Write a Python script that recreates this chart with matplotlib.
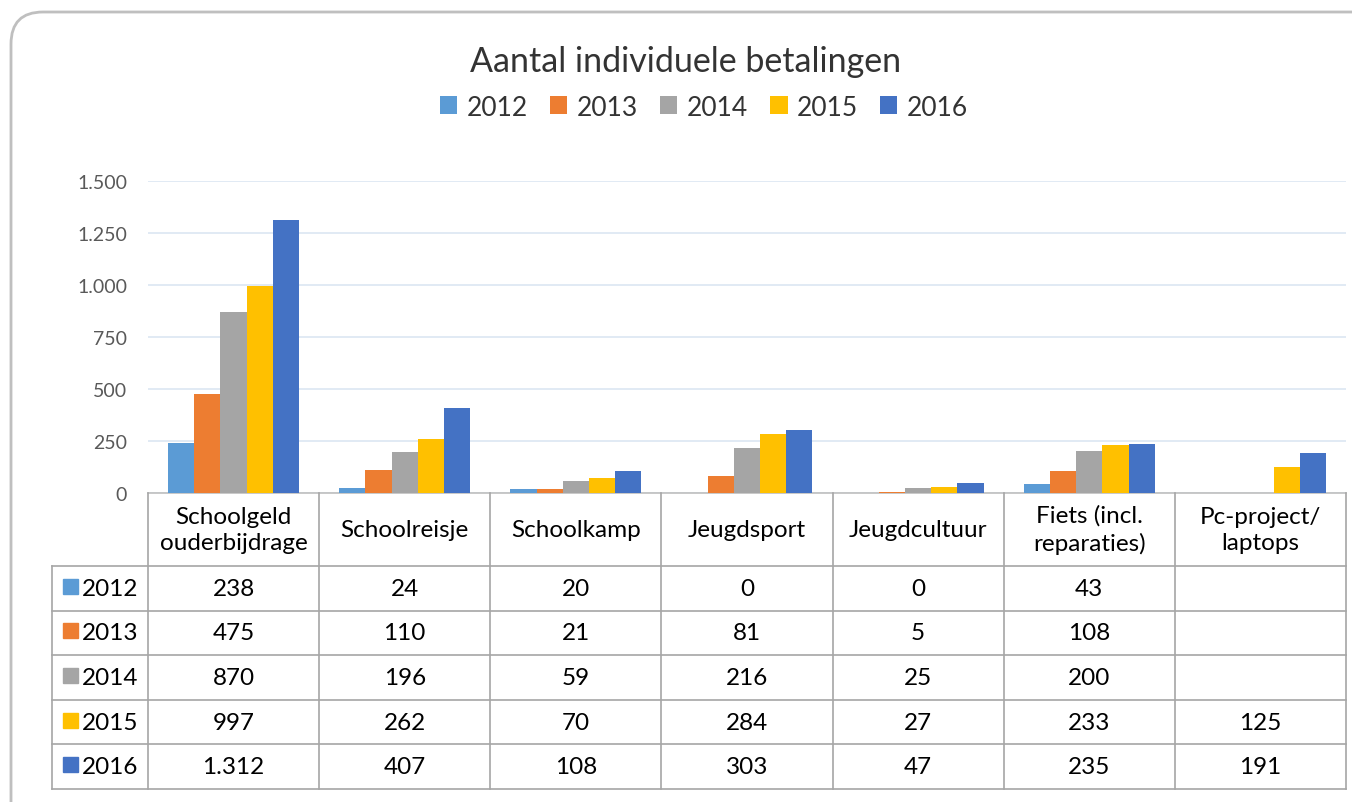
import numpy as np
import matplotlib
matplotlib.use("Agg")
import matplotlib.pyplot as plt
from matplotlib.patches import FancyBboxPatch, Patch, Rectangle

plt.rcParams['font.family'] = ['Lato', 'DejaVu Sans']

categories = ["Schoolgeld\nouderbijdrage", "Schoolreisje", "Schoolkamp", "Jeugdsport",
              "Jeugdcultuur", "Fiets (incl.\nreparaties)", "Pc-project/\nlaptops"]
years = ["2012", "2013", "2014", "2015", "2016"]
v2012 = [238, 24, 20, 0, 0, 43, None]
v2013 = [475, 110, 21, 81, 5, 108, None]
v2014 = [870, 196, 59, 216, 25, 200, None]
v2015 = [997, 262, 70, 284, 27, 233, 125]
v2016 = [1312, 407, 108, 303, 47, 235, 191]
series = [v2012, v2013, v2014, v2015, v2016]
colors = ["#5B9BD5", "#ED7D31", "#A5A5A5", "#FFC000", "#4472C4"]
yticks = [0, 250, 500, 750, 1000, 1250, 1500]

def fmt(v):
    if v is None:
        return ""
    return f"{v:,}".replace(",", ".")

W, H = 1352, 803
fig = plt.figure(figsize=(W / 100, H / 100), dpi=100)

# background frame
bg = fig.add_axes([0, 0, 1, 1])
bg.set_xlim(0, W); bg.set_ylim(H, 0); bg.axis("off")
bg.add_patch(FancyBboxPatch((11, 13), 1420, 900, boxstyle="round,pad=0,rounding_size=32",
                            fc="white", ec="#BFBFBF", lw=2))

# bar axes
x0, x1 = 148, 1346
ytop, ybot = 182, 494
ax = fig.add_axes([x0 / W, 1 - ybot / H, (x1 - x0) / W, (ybot - ytop) / H])
ax.set_facecolor("none")
n = len(categories)
bw = 0.153
xs = np.arange(n) + 0.5
for i, (vals, c) in enumerate(zip(series, colors)):
    vv = [np.nan if v is None else v for v in vals]
    ax.bar(xs + (i - 2) * bw, vv, width=bw, color=c, zorder=3)
ax.set_xlim(0, n)
ax.set_ylim(0, 1500)
ax.set_yticks(yticks)
ax.set_yticklabels([fmt(t) for t in yticks], fontsize=14, color="#595959")
ax.tick_params(axis="y", length=0, pad=15)
ax.set_xticks([])
for s in ["top", "right", "left"]:
    ax.spines[s].set_visible(False)
ax.spines["bottom"].set_color("#BFBFBF")
ax.spines["bottom"].set_linewidth(1.2)
ax.grid(axis="y", color="#DCE6F2", lw=1.2, zorder=0)

# title & legend
fig.text(686 / W, 1 - 62 / H, "Aantal individuele betalingen", ha="center", va="center",
         fontsize=24.5, color="#333333")
handles = [Patch(facecolor=c, edgecolor="none") for c in colors]
fig.legend(handles, years, loc="center", bbox_to_anchor=(704 / W, 1 - 108 / H), ncol=5,
           frameon=False, fontsize=19, handlelength=0.65, handleheight=0.65,
           handletextpad=0.35, columnspacing=0.85, labelcolor="#333333")

# data table
tl = 52
hdr = 73
rh = 44.6
cw = (x1 - x0) / n
tab = fig.add_axes([tl / W, 1 - 790 / H, (x1 - tl) / W, (790 - ybot) / H])
lab_w = (x0 - tl) / cw
tab.set_xlim(-lab_w, n)
tab.set_ylim(hdr + 5 * rh, 0)
tab.axis("off")
lc = "#A6A6A6"
lw = 1.2
for k in range(n + 1):
    tab.plot([k, k], [0, hdr + 5 * rh], color=lc, lw=lw, clip_on=False)
tab.plot([-lab_w, -lab_w], [hdr, hdr + 5 * rh], color=lc, lw=lw, clip_on=False)
for r in range(6):
    y = hdr + r * rh
    tab.plot([-lab_w, n], [y, y], color=lc, lw=lw, clip_on=False)
for k, cat in enumerate(categories):
    tab.text(k + 0.5, hdr / 2, cat, ha="center", va="center", fontsize=17.5,
             color="black", linespacing=1.35)
sq = 15
for r, (yr, vals, c) in enumerate(zip(years, series, colors)):
    yc = hdr + (r + 0.5) * rh
    tab.add_patch(Rectangle((-lab_w + 11 / cw, yc - sq / 2 - 2), sq / cw, sq, color=c))
    tab.text(-lab_w + 30 / cw, yc, yr, ha="left", va="center", fontsize=17.5, color="black")
    for k, v in enumerate(vals):
        tab.text(k + 0.5, yc, fmt(v), ha="center", va="center", fontsize=17.5, color="black")

fig.savefig("out.png", dpi=100)
